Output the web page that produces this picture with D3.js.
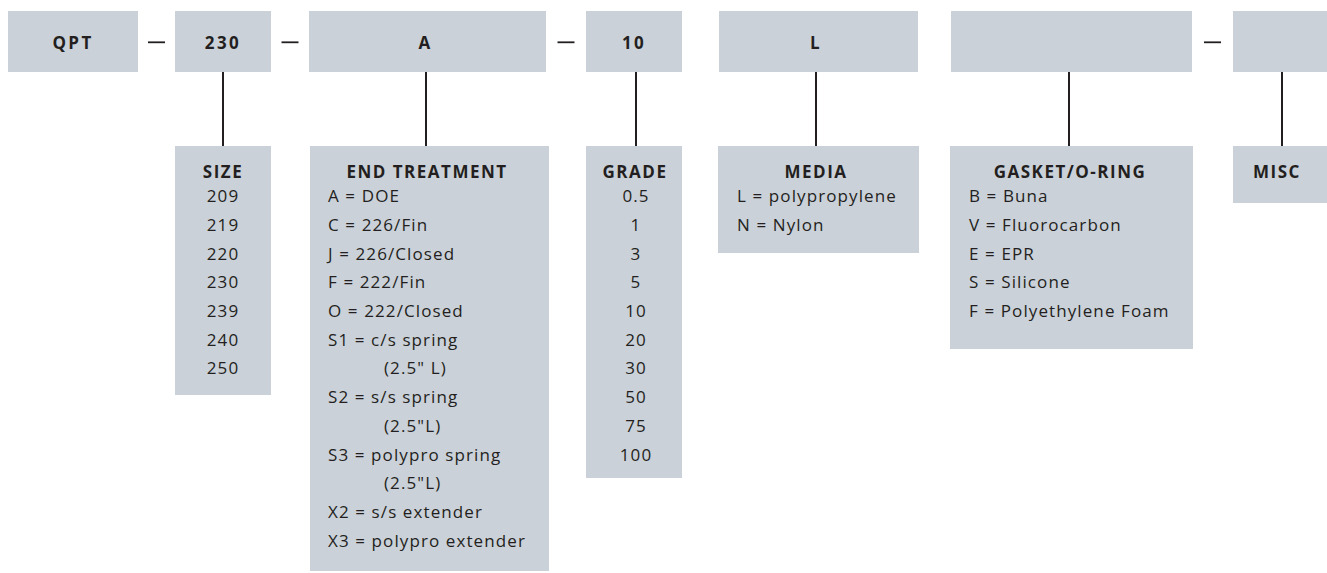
<!DOCTYPE html>
<html>
<head>
<meta charset="utf-8">
<script src="https://cdn.jsdelivr.net/npm/d3@7"></script>
<style>
  html, body { margin: 0; padding: 0; background: #fff; }
  svg { display: block; }
  text { font-family: "Open Sans", Lato, sans-serif; fill: #231f20; }
</style>
</head>
<body>
<svg id="chart" width="1327" height="573"></svg>
<script>
// ---- data ----
const codeLabels   = ["QPT", "230", "A", "10", "L", "", ""];
const dashAfter    = [true, true, true, false, false, true, false];
const groupHeaders = ["SIZE", "END TREATMENT", "GRADE", "MEDIA", "GASKET/O-RING", "MISC"];
const sizeItems    = ["209", "219", "220", "230", "239", "240", "250"];
const endItems     = ["A = DOE", "C = 226/Fin", "J = 226/Closed", "F = 222/Fin", "O = 222/Closed",
                      "S1 = c/s spring", "(2.5\" L)", "S2 = s/s spring", "(2.5\"L)",
                      "S3 = polypro spring", "(2.5\"L)", "X2 = s/s extender", "X3 = polypro extender"];
const endIndented  = [false, false, false, false, false, false, true, false, true, false, true, false, false];
const gradeItems   = ["0.5", "1", "3", "5", "10", "20", "30", "50", "75", "100"];
const mediaItems   = ["L = polypropylene", "N = Nylon"];
const gasketItems  = ["B = Buna", "V = Fluorocarbon", "E = EPR", "S = Silicone", "F = Polyethylene Foam"];
const miscItems    = [];
const groupItems   = [sizeItems, endItems, gradeItems, mediaItems, gasketItems, miscItems];

// ---- layout (positions & styles) ----
const topBoxes   = [[8,138],[175,271],[309,546],[586,682],[719,918],[951,1192],[1233,1331]];
const lowBoxes   = [[175,271],[310,549],[586,682],[718,919],[950,1193],[1233,1331]];
const connX      = [223, 426, 636, 816, 1069, 1282];
const headerX    = [223, 427, 635, 816, 1070, 1277];
const itemAlign  = ["middle", "start", "middle", "start", "start", "middle"];
const itemX      = [223, 328, 636, 737, 969, 1277];
const indentX    = 384;
const lowBottom  = [395, 571, 478, 253, 349, 203];
const boxFill = "#cbd1d9", ink = "#231f20";
const FS = 17, LS_ITEM = "1.1px", LS_HEAD = "1.5px", LS_TOP = "2.4px";

const svg = d3.select("#chart");

const yRow = d3.scaleLinear().domain([-1, 0]).range([178, 202.2]);
const yItem = d3.scaleLinear().domain([0, 1]).range([202.2, 230.9]);

// top code boxes
const topY0 = 11, topY1 = 72;
const tg = svg.append("g");
tg.selectAll("rect").data(codeLabels).join("rect")
  .attr("x", (d,i) => topBoxes[i][0]).attr("y", topY0)
  .attr("width", (d,i) => topBoxes[i][1]-topBoxes[i][0]).attr("height", topY1-topY0)
  .attr("fill", boxFill);
tg.selectAll("text").data(codeLabels).join("text")
  .attr("x", (d,i) => i === 4 ? connX[3] : (topBoxes[i][0]+topBoxes[i][1])/2 + (i===2 ? -2 : 0))
  .attr("y", 49).attr("text-anchor", "middle")
  .attr("font-size", FS).attr("font-weight", 700).attr("letter-spacing", LS_TOP)
  .text(d => d);

// dashes
const dashes = codeLabels.map((d,i) => i).filter(i => dashAfter[i] && i < codeLabels.length-1);
svg.selectAll("line.dash").data(dashes).join("line").attr("class","dash")
  .attr("x1", i => (topBoxes[i][1]+topBoxes[i+1][0])/2 - 8.5)
  .attr("x2", i => (topBoxes[i][1]+topBoxes[i+1][0])/2 + 8.5)
  .attr("y1", 42.3).attr("y2", 42.3)
  .attr("stroke", ink).attr("stroke-width", 1.8);

// connectors
svg.selectAll("line.conn").data(groupHeaders).join("line").attr("class","conn")
  .attr("x1", (d,i) => connX[i]).attr("x2", (d,i) => connX[i])
  .attr("y1", topY1).attr("y2", 146)
  .attr("stroke", ink).attr("stroke-width", 2);

// lower boxes
const lowTop = 146;
const groups = svg.selectAll("g.grp").data(groupHeaders).join("g").attr("class","grp");
groups.append("rect")
  .attr("x", (d,i) => lowBoxes[i][0]).attr("y", lowTop)
  .attr("width", (d,i) => lowBoxes[i][1]-lowBoxes[i][0])
  .attr("height", (d,i) => lowBottom[i]-lowTop)
  .attr("fill", boxFill);
groups.append("text")
  .attr("x", (d,i) => headerX[i]).attr("y", yRow(-1))
  .attr("text-anchor", "middle").attr("font-size", FS).attr("font-weight", 700).attr("letter-spacing", LS_HEAD)
  .text(d => d);
groups.each(function(d, gi) {
  d3.select(this).selectAll("text.item").data(groupItems[gi]).join("text").attr("class","item")
    .attr("x", (t,j) => (gi === 1 && endIndented[j]) ? indentX : itemX[gi])
    .attr("y", (t,j) => yItem(j))
    .attr("text-anchor", itemAlign[gi])
    .attr("font-size", FS).attr("letter-spacing", LS_ITEM)
    .text(t => t);
});
</script>
</body>
</html>
